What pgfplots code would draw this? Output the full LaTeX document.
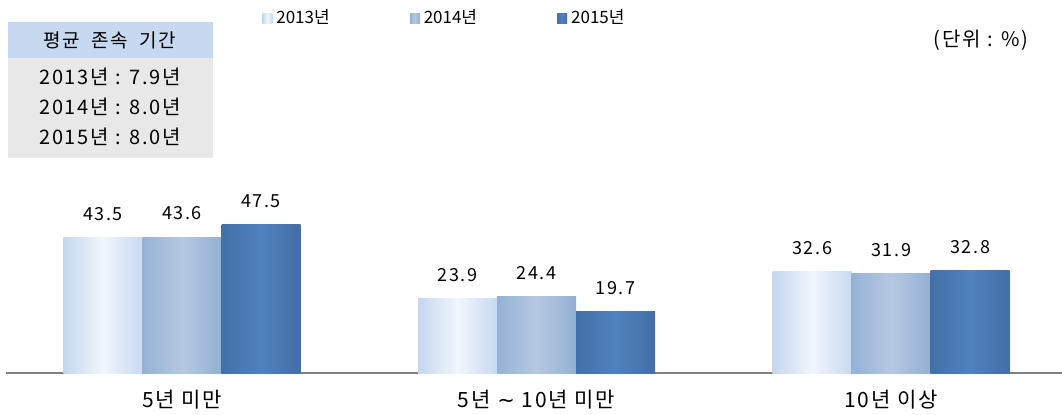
\documentclass[border=0pt]{standalone}
\usepackage{pgfplots}
\pgfplotsset{compat=1.18}
\usepackage{fontspec}
\setmainfont{Noto Sans CJK KR}[LetterSpace=9]
\newfontfamily\nols{Noto Sans CJK KR}
\newfontfamily\dejavu{DejaVu Sans}
\definecolor{aL}{RGB}{197,215,238}
\definecolor{aM}{RGB}{241,246,253}
\definecolor{aR}{RGB}{200,217,240}
\definecolor{bL}{RGB}{149,178,214}
\definecolor{bM}{RGB}{182,200,225}
\definecolor{bR}{RGB}{148,176,212}
\definecolor{cL}{RGB}{67,112,168}
\definecolor{cM}{RGB}{80,130,190}
\definecolor{cR}{RGB}{68,110,164}
\definecolor{hdr}{RGB}{198,217,241}
\definecolor{bdy}{RGB}{232,232,232}
\pgfplotsset{
  sA/.style={draw=none, left color=aL, right color=aR, middle color=aM, bar shift=-39.5pt},
  sB/.style={draw=none, left color=bL, right color=bR, middle color=bM, bar shift=0pt},
  sC/.style={draw=none, left color=cL, right color=cR, middle color=cM, bar shift=39.5pt},
}
\begin{document}
\begin{tikzpicture}
\useasboundingbox (0,0) rectangle (531pt,207pt);
\begin{axis}[
  at={(3pt,20.5pt)}, anchor=south west, scale only axis,
  width=528pt, height=170pt,
  ymin=0, ymax=109, xmin=-0.4965, xmax=2.482,
  ybar, bar width=39.5pt,
  axis y line=none, axis x line*=bottom,
  x axis line style={draw=black!50, line width=1pt, -},
  xtick={0,1,2},
  xticklabels={5년 미만, 5년 {\dejavu ∼} 10년 미만, 10년 이상},
  major tick length=0pt,
  xticklabel style={font=\fontsize{10.5}{12}\selectfont, yshift=-5pt},
  clip=false,
  nodes near coords={\pgfmathprintnumber[fixed,fixed zerofill,precision=1,assume math mode=true]{\pgfplotspointmeta}},
  every node near coord/.append style={font=\fontsize{9}{10}\selectfont, text=black, yshift=5pt},
  legend columns=3,
  legend style={draw=none, fill=none, inner sep=0pt, at={(0.2424,1.044)}, anchor=west,
    font=\nols\fontsize{8.5}{10}\selectfont,
    /tikz/every even column/.append style={column sep=38pt}},
  legend image code/.code={\path[#1] (0pt,-2.5pt) rectangle (5pt,2.5pt);},
]
\addlegendimage{sA}
\addlegendimage{sB}
\addlegendimage{sC}
\legend{2013년, 2014년, 2015년}
% 2013
\addplot[sA, forget plot] coordinates {(0,43.5)};
\addplot[sA, forget plot] coordinates {(1,23.9)};
\addplot[sA, forget plot] coordinates {(2,32.6)};
% 2014
\addplot[sB, forget plot] coordinates {(0,43.6)};
\addplot[sB, forget plot] coordinates {(1,24.4)};
\addplot[sB, forget plot] coordinates {(2,31.9)};
% 2015
\addplot[sC, forget plot] coordinates {(0,47.5)};
\addplot[sC, forget plot] coordinates {(1,19.7)};
\addplot[sC, forget plot] coordinates {(2,32.8)};
\end{axis}
% info box
\fill[hdr] (4pt,178pt) rectangle (106.5pt,196pt);
\fill[bdy] (4pt,128pt) rectangle (106.5pt,178pt);
\node[font=\fontsize{9.5}{11}\selectfont] at (55pt,187pt) {평균\hspace{0.6em}존속\hspace{0.6em}기간};
\node[font=\fontsize{10}{11}\selectfont] at (55pt,168.5pt) {2013년 : 7.9년};
\node[font=\fontsize{10}{11}\selectfont] at (55pt,153.5pt) {2014년 : 8.0년};
\node[font=\fontsize{10}{11}\selectfont] at (55pt,138.5pt) {2015년 : 8.0년};
\node[font=\fontsize{10}{11}\selectfont] at (490.5pt,187pt) {(단위 : \%)};
\end{tikzpicture}
\end{document}
